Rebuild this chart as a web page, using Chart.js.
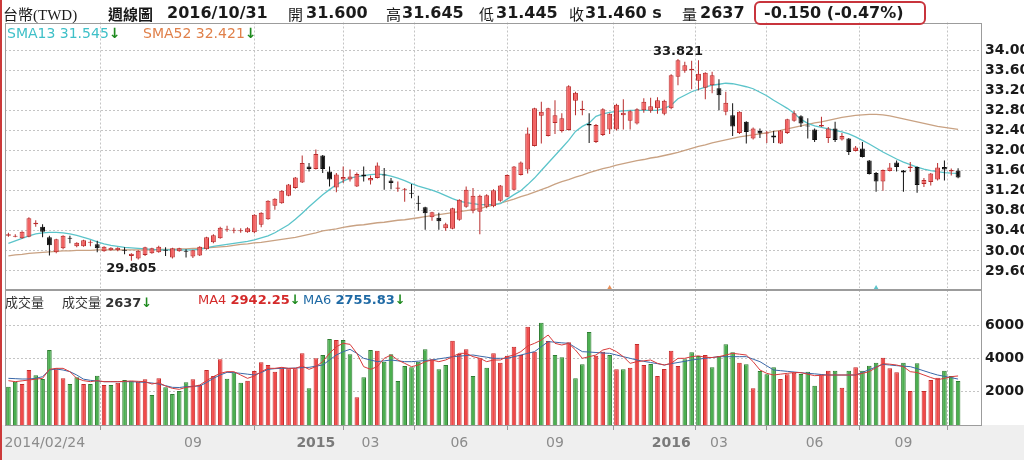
<!DOCTYPE html>
<html>
<head>
<meta charset="utf-8">
<script src="https://cdn.jsdelivr.net/npm/chart.js@4.4.0/dist/chart.umd.min.js"></script>
<style>
body { margin: 0; width: 1024px; height: 460px; overflow: hidden; background: #fff; position: relative; font-family: "DejaVu Sans", "Noto Sans CJK TC", sans-serif; }
#redline { position: absolute; left: 0; top: 0; width: 2px; height: 460px; background: #cc3a3a; }
#axisbg { position: absolute; left: 0; top: 425px; width: 1024px; height: 35px; background: #efefef; }
canvas { position: absolute; left: 0; }
.t { position: absolute; white-space: pre; line-height: 18px; }
.hb { font: bold 16px "DejaVu Sans", "Noto Sans CJK TC"; color: #1a1a1a; top: 3px; }
.cj { font: 15px "Noto Sans CJK TC"; color: #1a1a1a; top: 3px; }
.dn { color: #1e8a1e; font-weight: bold; }
#chgbox { position: absolute; left: 754px; top: 1px; width: 168px; height: 20px; border: 2px solid #c8343c; border-radius: 6px; }
.lg { font: 14px "DejaVu Sans"; top: 25px; }
.vl { font: 13px "DejaVu Sans", "Noto Sans CJK TC"; top: 292px; color: #333; }
</style>
</head>
<body>
<div id="axisbg"></div>
<canvas id="priceChart" width="1024" height="270" style="top:20px"></canvas>
<canvas id="volChart" width="1024" height="172" style="top:288px"></canvas>
<div id="redline"></div>

<div class="t" style="left:3px;top:3px;font:15px 'Liberation Serif','Noto Sans CJK TC';color:#1a1a1a">台幣(TWD)</div>
<div class="t cj" style="left:108px;font-weight:bold">週線圖</div>
<div class="t hb" style="left:167px">2016/10/31</div>
<div class="t cj" style="left:288px">開</div>
<div class="t hb" style="left:306px">31.600</div>
<div class="t cj" style="left:386px">高</div>
<div class="t hb" style="left:402px">31.645</div>
<div class="t cj" style="left:479px">低</div>
<div class="t hb" style="left:496px">31.445</div>
<div class="t cj" style="left:569px">收</div>
<div class="t hb" style="left:585px">31.460 s</div>
<div class="t cj" style="left:682px">量</div>
<div class="t hb" style="left:700px">2637</div>
<div id="chgbox"></div>
<div class="t hb" style="left:764px">-0.150 (-0.47%)</div>

<div class="t lg" style="left:7px;color:#3fc0c8">SMA13 31.545<span class="dn">↓</span></div>
<div class="t lg" style="left:143px;color:#e0804a">SMA52 32.421<span class="dn">↓</span></div>

<div class="t vl" style="left:5px">成交量</div>
<div class="t vl" style="left:62px">成交量 <b>2637</b><span class="dn">↓</span></div>
<div class="t vl" style="left:198px;color:#d42a2a">MA4 <b>2942.25</b><span class="dn">↓</span></div>
<div class="t vl" style="left:303px;color:#1f6aa5">MA6 <b>2755.83</b><span class="dn">↓</span></div>

<script>
// weekly candles 2014/02/24 .. 2016/10/31, index = week number
const tickIdx = [0, 27, 45, 53, 66, 80, 97, 104, 118, 131];
const tickText = ['2014/02/24', '09', '2015', '03', '06', '09', '2016', '03', '06', '09'];
const priceTicks = [29.6, 30.0, 30.4, 30.8, 31.2, 31.6, 32.0, 32.4, 32.8, 33.2, 33.6, 34.0];
const volTicks = [2000, 4000, 6000];
// small event markers at the foot of the price panel
const eventWeeks = [88, 127];
const eventColors = ['#e8905a', '#5cc4ca'];

const open = [30.30,30.28,30.25,30.28,30.53,30.48,30.27,29.97,30.05,30.26, 30.09,30.09,30.16,30.13,29.99,30.01,30.01,30.02,29.90,29.85,
  29.92,29.95,29.97,30.02,29.87,29.99,30.00,29.89,29.91,30.03, 30.17,30.25,30.42,30.40,30.39,30.37,30.37,30.52,30.63,30.90,
  30.95,31.10,31.25,31.36,31.68,31.63,31.90,31.58,31.26,31.42, 31.42,31.28,31.52,31.40,31.45,31.52,31.40,31.24,31.22,31.16,
  30.96,30.87,30.67,30.66,30.45,30.44,30.62,30.88,30.80,30.78, 30.88,30.89,31.00,31.08,31.22,31.51,31.62,32.09,32.69,32.29,
  32.55,32.39,32.41,32.99,32.80,32.53,32.17,32.31,32.42,32.42, 32.70,32.59,32.54,32.80,32.79,32.84,32.73,32.84,33.47,33.59,
  33.60,33.39,33.25,33.30,33.24,32.77,32.70,32.35,32.57,32.24, 32.39,32.34,32.30,32.14,32.35,32.59,32.68,32.50,32.42,32.48,
  32.25,32.44,32.22,32.24,31.99,32.04,31.80,31.55,31.38,31.59, 31.76,31.60,31.65,31.67,31.33,31.37,31.42,31.67,31.58,31.60];
const high = [30.36,30.33,30.39,30.67,30.61,30.53,30.30,30.24,30.31,30.30, 30.17,30.22,30.21,30.20,30.09,30.07,30.07,30.07,29.95,30.01,
  30.08,30.06,30.10,30.07,30.06,30.06,30.03,30.02,30.09,30.28, 30.33,30.48,30.50,30.46,30.45,30.47,30.73,30.77,31.01,31.05,
  31.21,31.33,31.47,31.90,31.75,32.02,31.91,31.68,31.55,31.68, 31.62,31.56,31.68,31.50,31.76,31.65,31.45,31.38,31.25,31.33,
  31.10,30.88,30.78,30.76,30.56,30.86,31.03,31.28,31.25,31.12, 31.13,31.23,31.31,31.52,31.69,31.78,32.46,32.85,32.97,32.85,
  33.00,32.74,33.30,33.17,32.99,32.74,32.53,32.84,32.74,32.93, 33.02,32.80,32.84,33.04,33.05,33.06,33.01,33.52,33.821,33.77,
  33.79,33.80,33.56,33.57,33.42,33.17,32.94,32.78,32.58,32.46, 32.44,32.39,32.39,32.41,32.63,32.79,32.70,32.64,32.44,32.67,
  32.47,32.57,32.35,32.25,32.09,32.17,31.81,31.57,31.62,31.75, 31.80,31.61,31.77,31.68,31.45,31.55,31.75,31.80,31.64,31.645];
const low = [30.28,30.27,30.24,30.27,30.48,30.27,29.91,29.95,30.03,30.15, 30.07,30.08,30.09,29.97,29.98,30.00,29.99,29.93,29.805,29.83,
  29.90,29.94,29.96,29.90,29.85,29.98,29.87,29.86,29.90,30.02, 30.15,30.24,30.38,30.35,30.36,30.36,30.35,30.47,30.62,30.82,
  30.94,31.09,31.24,31.35,31.58,31.62,31.55,31.28,31.17,31.35, 31.38,31.27,31.38,31.32,31.44,31.22,31.23,31.18,30.98,31.05,
  30.80,30.42,30.60,30.42,30.40,30.43,30.60,30.86,30.75,30.33, 30.85,30.87,30.98,31.07,31.21,31.50,31.54,32.08,32.14,32.28,
  32.33,32.36,32.40,32.70,32.70,32.15,32.15,32.29,32.33,32.40, 32.42,32.42,32.52,32.75,32.75,32.73,32.70,32.82,33.30,33.55,
  33.22,33.20,33.02,33.14,32.80,32.70,32.29,32.33,32.14,32.22, 32.25,32.15,32.15,32.13,32.33,32.57,32.47,32.24,32.17,32.47,
  32.15,32.17,32.20,31.91,31.98,31.86,31.52,31.18,31.20,31.58, 31.58,31.18,31.57,31.16,31.27,31.30,31.40,31.40,31.50,31.445];
const close = [30.33,30.30,30.38,30.65,30.56,30.38,30.11,30.23,30.30,30.24, 30.16,30.21,30.17,30.05,30.08,30.06,30.06,30.00,29.94,30.00,
  30.07,30.05,30.08,30.00,30.05,30.05,29.98,30.01,30.08,30.27, 30.31,30.46,30.44,30.42,30.41,30.45,30.72,30.76,31.00,31.04,
  31.20,31.32,31.46,31.75,31.63,31.93,31.63,31.42,31.52,31.47, 31.48,31.53,31.48,31.45,31.70,31.50,31.35,31.26,31.24,31.14,
  30.94,30.75,30.77,30.59,30.53,30.85,31.02,31.22,31.10,31.10, 31.11,31.21,31.30,31.51,31.68,31.76,32.34,32.84,32.77,32.84,
  32.70,32.64,33.28,33.15,32.83,32.50,32.51,32.82,32.73,32.91, 32.75,32.78,32.82,32.97,32.88,33.00,32.99,33.50,33.80,33.70,
  33.63,33.53,33.55,33.50,33.10,32.95,32.48,32.77,32.37,32.44, 32.34,32.36,32.26,32.40,32.62,32.74,32.54,32.48,32.21,32.51,
  32.44,32.21,32.29,31.97,32.06,31.87,31.53,31.38,31.61,31.66, 31.67,31.56,31.68,31.31,31.41,31.54,31.66,31.62,31.61,31.46];

const sma13 = [30.15,30.20,30.25,30.30,30.34,30.36,30.37,30.37,30.36,30.34, 30.31,30.27,30.23,30.18,30.14,30.11,30.09,30.07,30.06,30.05,
  30.04,30.03,30.02,30.02,30.02,30.02,30.02,30.02,30.03,30.06, 30.09,30.11,30.13,30.15,30.17,30.19,30.22,30.26,30.30,30.36,
  30.44,30.52,30.63,30.75,30.88,31.00,31.12,31.22,31.32,31.39, 31.45,31.48,31.50,31.52,31.53,31.52,31.49,31.45,31.40,31.34,
  31.29,31.25,31.21,31.16,31.10,31.04,30.99,30.96,30.94,30.92, 30.92,30.92,30.94,31.03,31.12,31.20,31.32,31.45,31.60,31.75,
  31.90,32.05,32.20,32.38,32.48,32.55,32.68,32.73,32.76,32.78, 32.79,32.80,32.80,32.80,32.80,32.80,32.84,32.90,33.03,33.10,
  33.17,33.22,33.26,33.30,33.32,33.34,33.33,33.30,33.27,33.23, 33.16,33.09,33.00,32.92,32.84,32.74,32.62,32.54,32.49,32.46,
  32.43,32.40,32.37,32.33,32.27,32.20,32.13,32.05,31.97,31.90, 31.83,31.77,31.72,31.67,31.63,31.60,31.58,31.56,31.55,31.545];
const sma52 = [29.90,29.92,29.93,29.95,29.96,29.97,29.98,29.99,30.00,30.00, 30.01,30.01,30.01,30.02,30.02,30.02,30.02,30.02,30.02,30.02,
  30.02,30.02,30.03,30.03,30.03,30.04,30.04,30.05,30.05,30.06, 30.07,30.08,30.09,30.11,30.13,30.14,30.16,30.17,30.19,30.21,
  30.23,30.25,30.27,30.30,30.33,30.36,30.40,30.42,30.44,30.47, 30.49,30.51,30.52,30.54,30.56,30.57,30.59,30.61,30.62,30.64,
  30.66,30.68,30.70,30.72,30.74,30.76,30.78,30.80,30.82,30.84, 30.88,30.91,30.95,30.99,31.03,31.08,31.12,31.17,31.22,31.27,
  31.33,31.38,31.42,31.47,31.51,31.56,31.60,31.64,31.67,31.71, 31.74,31.77,31.80,31.82,31.85,31.87,31.90,31.93,31.96,32.00,
  32.04,32.08,32.11,32.15,32.18,32.21,32.24,32.27,32.29,32.31, 32.33,32.35,32.38,32.40,32.43,32.46,32.49,32.52,32.55,32.57,
  32.60,32.63,32.66,32.68,32.70,32.71,32.72,32.72,32.71,32.69, 32.66,32.63,32.60,32.57,32.54,32.51,32.48,32.46,32.44,32.421];

const volume = [2300,2600,2460,3300,2980,2760,4500,3400,2800,2460, 2860,2460,2460,2960,2400,2400,2540,2700,2660,2600,
  2740,1800,2800,2260,1860,2040,2560,2740,2400,3300, 2940,3940,2780,3160,2540,2660,3240,3760,3600,3200,
  3460,3400,3400,4300,2200,4000,4200,5160,5100,5100, 4240,1660,2860,4500,4460,3800,4240,2640,3540,3460,
  3800,4540,3940,3340,3600,5060,4260,4540,2940,4000, 3440,4300,3740,4160,4700,4200,5900,4400,6140,5040,
  4200,4060,4960,2800,3640,5580,4160,4400,4200,3340, 3340,3440,4860,3600,3660,2940,3360,4460,3540,3940,
  4360,4140,4200,3460,4140,4840,4360,3740,3640,2200, 3240,3040,3460,2760,3040,3140,3060,3200,2360,3040,
  3260,3260,2240,3260,3460,3260,3560,3740,4040,3400, 3160,3740,2040,3700,2040,2700,2840,3260,2940,2637];
// 1 = red (up week), 0 = green
const volUp = [0,0,1,1,0,0,0,1,1,0, 0,1,0,0,1,0,1,0,0,1, 1,0,1,0,0,0,0,1,1,1, 1,1,0,0,0,1,1,1,1,1,
  1,1,1,1,0,1,0,0,1,0, 0,1,0,0,1,0,0,0,0,0, 0,0,1,0,0,1,1,1,0,1, 0,1,1,1,1,1,1,1,0,1,
  0,0,1,0,0,0,1,1,0,1, 0,1,1,1,0,1,1,1,1,0, 0,0,1,0,0,0,0,1,0,1, 0,0,0,1,1,1,0,0,0,1,
  1,0,1,0,1,0,0,0,1,1, 1,0,1,0,1,1,1,0,0,0];
const ma4 = [2660,2600,2650,2700,2750,2800,3340,3400,3400,3200, 2800,2660,2600,2660,2600,2600,2600,2620,2640,2620,
  2600,2460,2540,2340,2200,2140,2260,2300,2400,2660, 2900,3100,3200,3200,3000,2800,2940,3200,3400,3400,
  3460,3400,3400,3540,3340,3500,3800,4300,4700,4900, 4840,4300,3500,3340,3500,4000,4200,3900,3700,3500,
  3600,3800,3900,3800,3900,4100,4300,4300,4100,4000, 3800,3900,3900,4100,4200,4400,4740,4900,5100,5400,
  4900,4800,4900,4500,4000,4100,4200,4500,4600,4400, 4100,3700,3800,3850,3900,3700,3600,3700,4000,4000,
  4100,4150,4060,4050,4100,4200,4300,4250,4200,3800, 3300,3100,3000,3050,3100,3150,3140,3050,2960,2980,
  3000,3000,3000,3000,3000,3100,3200,3450,3680,3650, 3600,3500,3200,3150,3000,2850,2720,2800,2900,2942];
const ma6 = [2800,2780,2760,2760,2800,2900,3300,3360,3300,3200, 3000,2750,2680,2640,2600,2600,2600,2600,2600,2580,
  2560,2520,2460,2360,2260,2250,2300,2320,2340,2550, 2800,3000,3160,3140,3100,3050,3000,3150,3340,3380,
  3400,3400,3420,3440,3460,3530,3600,3900,4200,4400, 4540,4300,4000,3900,3800,3850,3900,3850,3800,3800,
  3830,3870,3900,3970,4030,4100,4130,4170,4200,4130, 4070,4000,4000,4000,4100,4200,4300,4400,4700,5000,
  4970,4930,4900,4650,4400,4380,4350,4320,4300,4200, 4100,4000,3900,3820,3750,3680,3600,3680,3750,3820,
  3900,3950,4000,4050,4100,4100,4100,4100,4100,3950, 3800,3550,3300,3260,3220,3180,3140,3100,3070,3030,
  3000,3000,3000,3000,3000,3160,3320,3480,3640,3600, 3560,3530,3500,3380,3250,3120,3000,2920,2840,2756];

const RED = '#f26262', RED_EDGE = '#b82c2c', BLACK = '#111111';
const PRICE_MIN = 29.26, PRICE_MAX = 34.55;
const up = open.map((o, i) => close[i] >= o);
const xy = (arr) => arr.map((v, i) => ({ x: i, y: v }));

const framePlugin = {
  id: 'frame',
  afterDraw(chart) {
    const { ctx, chartArea: a } = chart;
    ctx.save();
    ctx.strokeStyle = '#9c9c9c';
    ctx.lineWidth = 1;
    ctx.strokeRect(Math.round(a.left) + 0.5, Math.round(a.top) + 0.5, Math.round(a.right - a.left) - 1, Math.round(a.bottom - a.top));
    ctx.restore();
  }
};

const extremePlugin = {
  id: 'extremes',
  afterDatasetsDraw(chart) {
    const { ctx, scales: { x, y } } = chart;
    let hi = 0, lo = 0;
    high.forEach((v, i) => { if (v > high[hi]) hi = i; });
    low.forEach((v, i) => { if (v < low[lo]) lo = i; });
    ctx.save();
    ctx.font = 'bold 13px "DejaVu Sans"';
    ctx.fillStyle = '#1a1a1a';
    ctx.textAlign = 'center';
    ctx.textBaseline = 'bottom';
    ctx.fillText(high[hi].toFixed(3), x.getPixelForValue(hi), y.getPixelForValue(high[hi]) - 1);
    ctx.textBaseline = 'top';
    ctx.fillText(low[lo].toFixed(3), x.getPixelForValue(lo), y.getPixelForValue(low[lo]) + 1);
    ctx.restore();
  }
};

const xLabelPlugin = {
  id: 'xlabels',
  afterDraw(chart) {
    const { ctx, chartArea: a, scales: { x } } = chart;
    ctx.save();
    ctx.textBaseline = 'middle';
    tickIdx.forEach((v, i) => {
      const year = tickText[i].length === 4;
      ctx.font = (year ? 'bold ' : '') + '14px "DejaVu Sans"';
      ctx.fillStyle = year ? '#7a7a7a' : '#8c8c8c';
      ctx.textAlign = i === 0 ? 'left' : 'center';
      const px = x.getPixelForValue(v);
      ctx.fillText(tickText[i], i === 0 ? px - 4 : px, a.bottom + 18);
    });
    ctx.restore();
  }
};

const noPad = s => { s.paddingTop = 0; s.paddingBottom = 0; s.paddingLeft = 0; s.paddingRight = 0; };

const gridX = (h, ticks) => ({
  type: 'linear', min: -0.5, max: 142.5, offset: false,
  afterBuildTicks: s => { s.ticks = tickIdx.map(v => ({ value: v })); },
  afterFit: s => { noPad(s); s.height = h; },
  ticks: { display: false },
  grid: { color: '#c4c4c4', drawTicks: ticks, tickLength: 5, tickColor: '#9a9a9a', tickBorderDash: [] },
  border: { display: false, dash: [2, 2] }
});

const rightAxis = (min, max, vals, fmt) => ({
  position: 'right', min, max,
  afterBuildTicks: s => { s.ticks = vals.map(v => ({ value: v })); },
  afterFit: s => { noPad(s); s.width = 42; },
  ticks: { padding: 3, color: '#1a1a1a', font: { family: 'DejaVu Sans', size: 14, weight: 'bold' }, callback: fmt },
  grid: { color: '#c4c4c4', drawTicks: false },
  border: { display: false, dash: [2, 2] }
});

const base = (pad) => ({
  responsive: false, animation: false, events: [],
  layout: { autoPadding: false, padding: pad },
  plugins: { legend: { display: false }, tooltip: { enabled: false } }
});

new Chart(document.getElementById('priceChart'), {
  type: 'bar',
  data: {
    datasets: [
      { type: 'line', data: xy(sma13), borderColor: '#5cc4ca', borderWidth: 1.3, pointRadius: 0, order: 3 },
      { type: 'line', data: xy(sma52), borderColor: '#c9a283', borderWidth: 1.3, pointRadius: 0, order: 3 },
      { data: low.map((v, i) => ({ x: i, y: [v, high[i]] })), grouped: false, maxBarThickness: 1,
        backgroundColor: up.map(u => u ? RED_EDGE : BLACK), order: 2 },
      { data: open.map((v, i) => ({ x: i, y: [v, close[i]] })), grouped: false, maxBarThickness: 5.5, minBarLength: 1,
        backgroundColor: up.map(u => u ? RED : BLACK), borderColor: up.map(u => u ? RED_EDGE : BLACK),
        borderWidth: 1, borderSkipped: false, order: 1 },
      { type: 'scatter', data: eventWeeks.map(w => ({ x: w, y: PRICE_MIN })), pointStyle: 'triangle',
        pointRadius: 3, pointBackgroundColor: eventColors, pointBorderColor: eventColors, pointBorderWidth: 0,
        clip: false, order: 0 }
    ]
  },
  options: {
    ...base({ left: 5, top: 2.5, bottom: 2, right: 0 }),
    scales: {
      x: gridX(0, false),
      y: rightAxis(PRICE_MIN, PRICE_MAX, priceTicks, v => v.toFixed(2))
    }
  },
  plugins: [framePlugin, extremePlugin]
});

new Chart(document.getElementById('volChart'), {
  type: 'bar',
  data: {
    datasets: [
      { type: 'line', data: xy(ma4), borderColor: '#d83a3a', borderWidth: 1, pointRadius: 0, order: 0 },
      { type: 'line', data: xy(ma6), borderColor: '#3a68a8', borderWidth: 1, pointRadius: 0, order: 0 },
      { data: xy(volume), grouped: false, maxBarThickness: 4.6,
        backgroundColor: volUp.map(u => u ? '#f04a4a' : '#4caf50'),
        borderColor: volUp.map(u => u ? '#c42a2a' : '#2e7d32'),
        borderWidth: 1, borderSkipped: 'start', order: 1 }
    ]
  },
  options: {
    ...base({ left: 5, top: 2, bottom: 0, right: 0 }),
    scales: {
      x: gridX(35, true),
      y: rightAxis(0, 8100, volTicks, v => String(v))
    }
  },
  plugins: [framePlugin, xLabelPlugin]
});
</script>
</body>
</html>
